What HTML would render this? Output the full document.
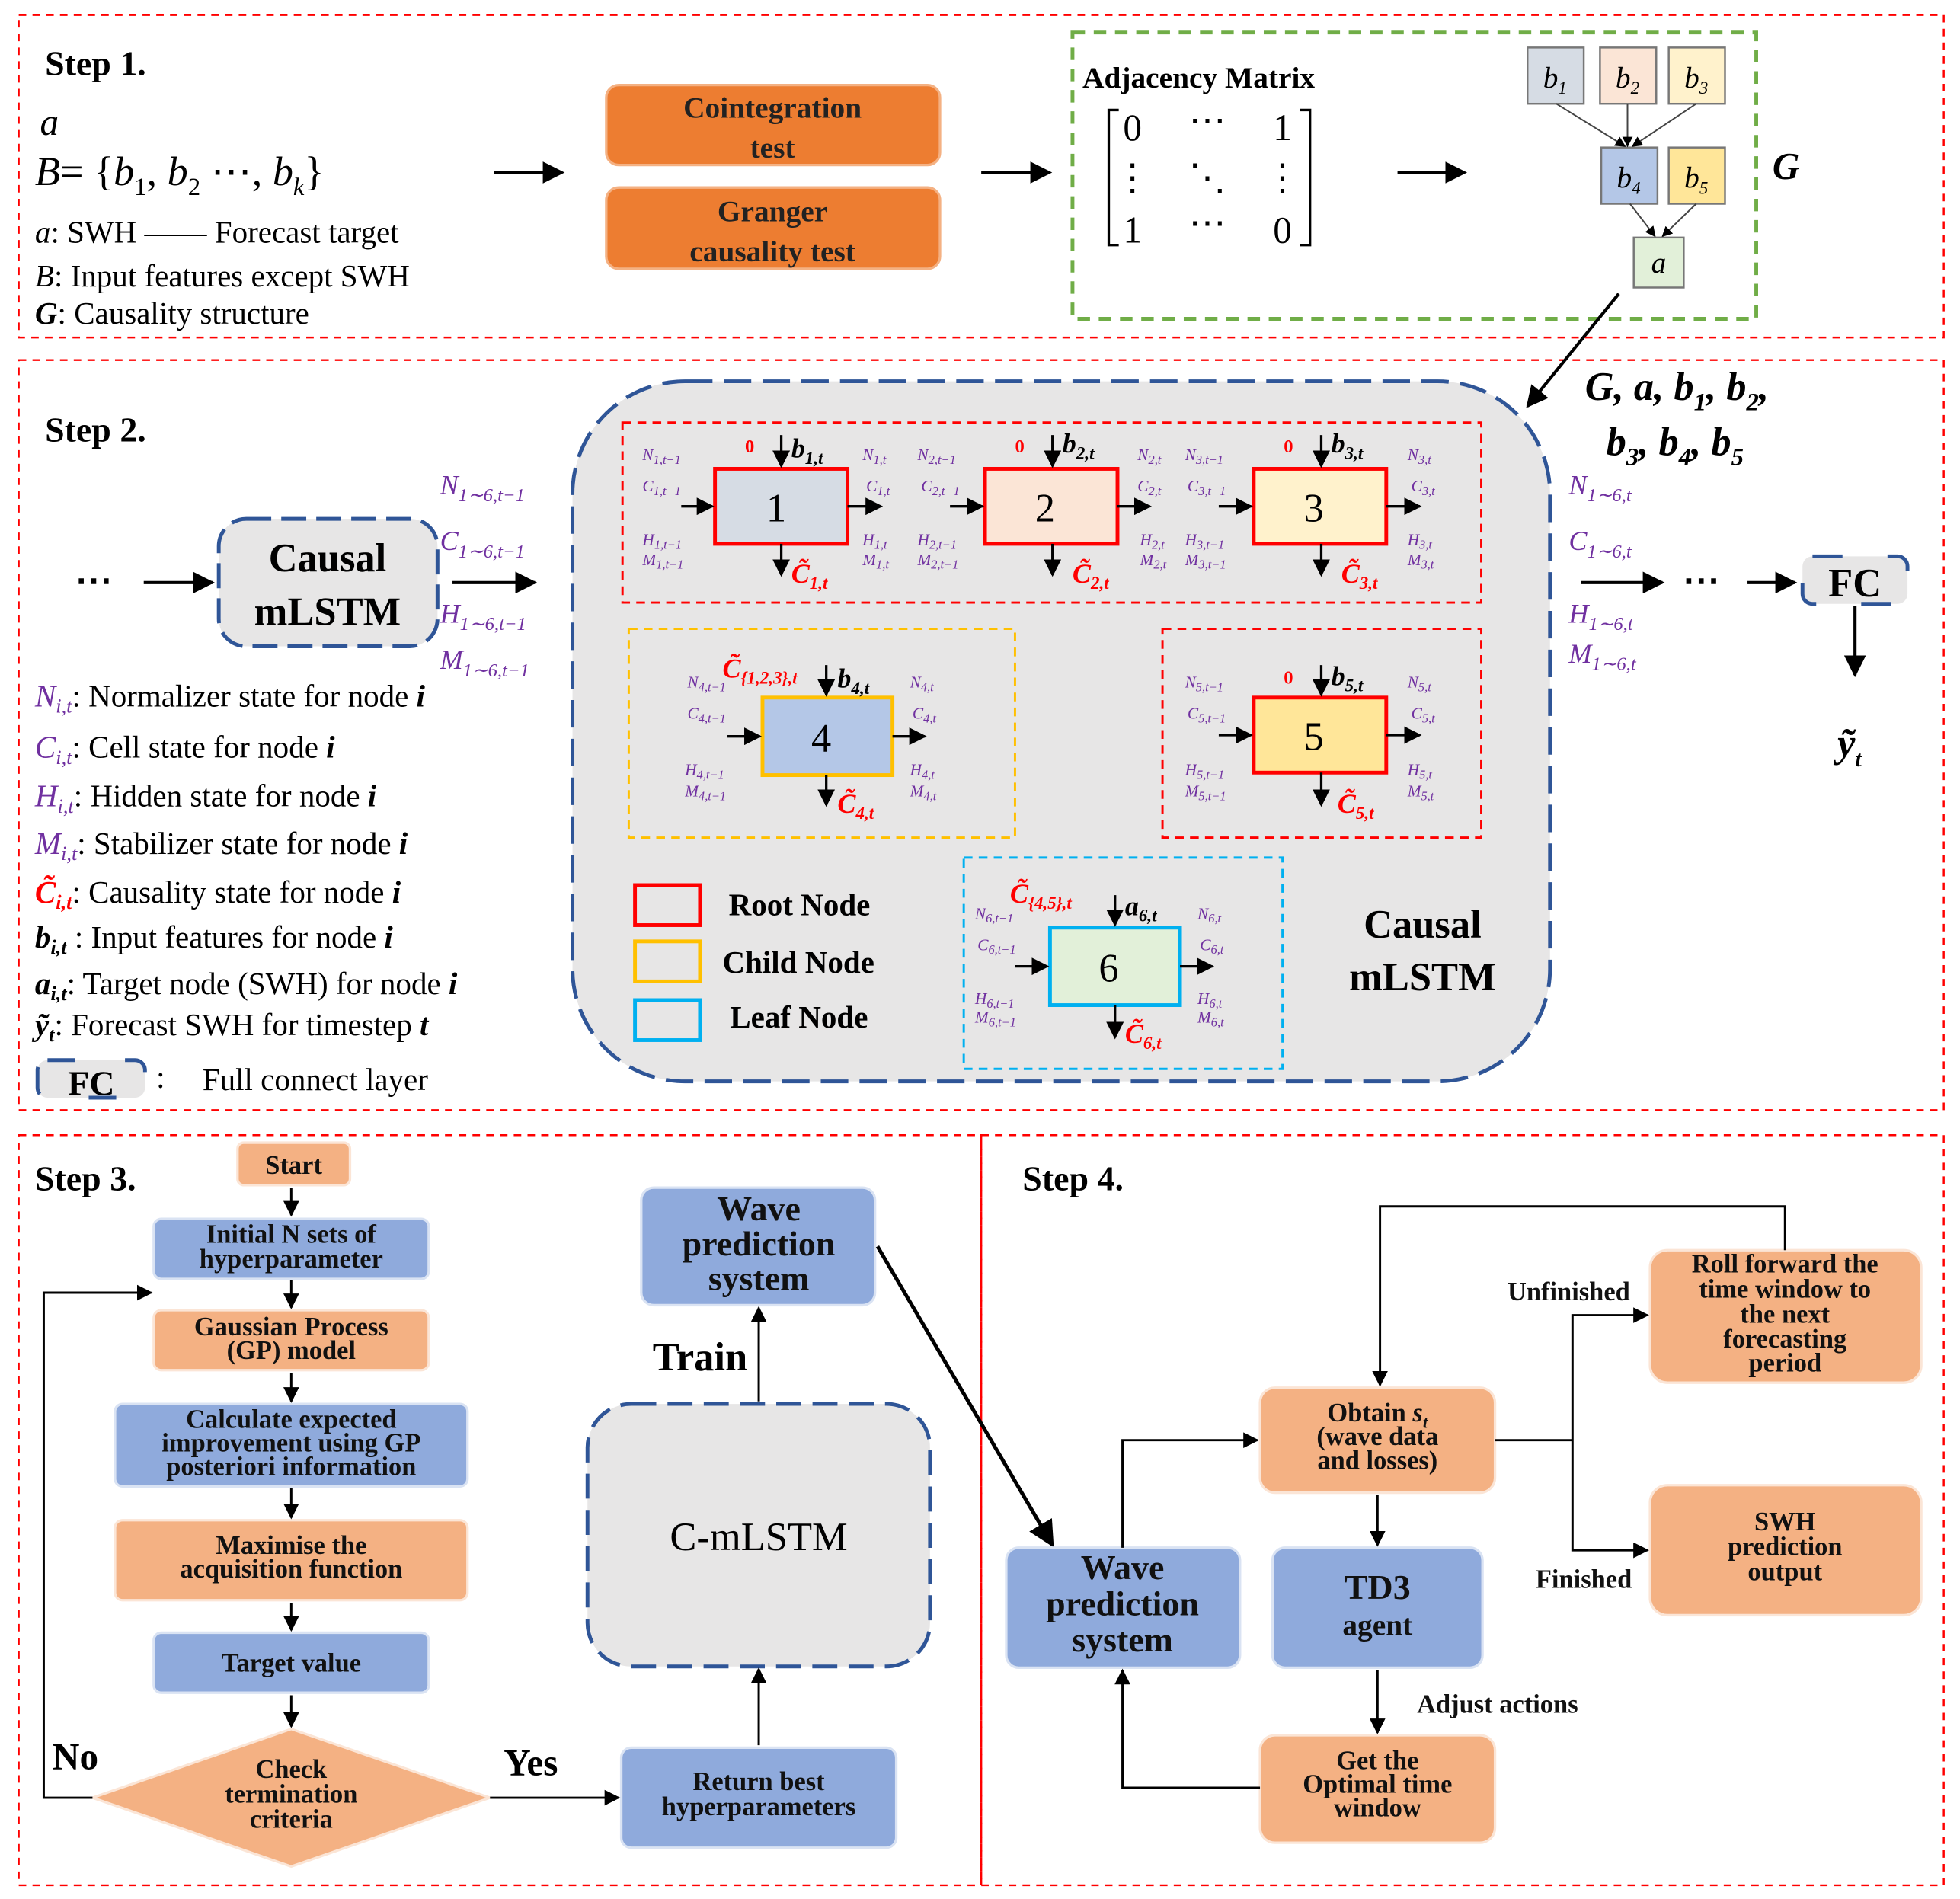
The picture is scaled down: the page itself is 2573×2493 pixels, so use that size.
<!DOCTYPE html>
<html><head><meta charset="utf-8"><style>
html,body{margin:0;padding:0;background:#fff;}
svg{display:block;}
text{font-family:"Liberation Serif",serif;}
.p{fill:#7030A0;font-style:italic;font-size:13px;}
.r{fill:#ff0000;font-weight:bold;}
.b{font-weight:bold;}
</style></head><body>
<svg width="2573" height="2493" viewBox="0 0 1568 1519" preserveAspectRatio="none" xmlns="http://www.w3.org/2000/svg">
<defs>
<marker id="ar" viewBox="0 0 10 10" refX="9" refY="5" markerWidth="7" markerHeight="7" orient="auto"><path d="M0,0L10,5L0,10z" fill="#000"/></marker>
</defs>
<rect width="1568" height="1519" fill="#fff"/>
<g fill="none" stroke="#ff0000" stroke-width="1.5" stroke-dasharray="6,5">
<rect x="15" y="12" width="1540" height="258"/>
<rect x="15" y="288" width="1540" height="600"/>
<rect x="15" y="908" width="770" height="600"/>
<rect x="785" y="908" width="770" height="600"/>
</g>
<!-- STEP 1 -->
<text x="36" y="60" font-size="28" class="b">Step 1.</text>
<text x="32" y="108" font-size="30" font-style="italic">a</text>
<text x="28" y="148" font-size="33"><tspan font-style="italic">B</tspan>= {<tspan font-style="italic">b</tspan><tspan font-size="20" dy="8">1</tspan><tspan dy="-8">,  </tspan><tspan font-style="italic">b</tspan><tspan font-size="20" dy="8">2</tspan><tspan dy="-8">  ⋯,  </tspan><tspan font-style="italic">b</tspan><tspan font-size="20" dy="8" font-style="italic">k</tspan><tspan dy="-8">}</tspan></text>
<text x="28" y="194" font-size="25"><tspan font-style="italic">a</tspan>:  SWH —— Forecast target</text>
<text x="28" y="229" font-size="25"><tspan font-style="italic">B</tspan>:  Input features except SWH</text>
<text x="28" y="259" font-size="25"><tspan font-style="italic" font-weight="bold">G</tspan>:  Causality structure</text>
<line x1="395" y1="138" x2="450" y2="138" stroke="#000" stroke-width="2.5" marker-end="url(#ar)"/>
<rect x="485" y="68" width="267" height="64" rx="10" fill="#ED7D31" stroke="#F4B183" stroke-width="2"/>
<text x="618" y="94" font-size="24" class="b" text-anchor="middle" fill="#222">Cointegration</text>
<text x="618" y="126" font-size="24" class="b" text-anchor="middle" fill="#222">test</text>
<rect x="485" y="150" width="267" height="65" rx="10" fill="#ED7D31" stroke="#F4B183" stroke-width="2"/>
<text x="618" y="177" font-size="24" class="b" text-anchor="middle" fill="#222">Granger</text>
<text x="618" y="209" font-size="24" class="b" text-anchor="middle" fill="#222">causality test</text>
<line x1="785" y1="138" x2="840" y2="138" stroke="#000" stroke-width="2.5" marker-end="url(#ar)"/>
<rect x="858" y="26" width="547" height="229" fill="none" stroke="#70AD47" stroke-width="3" stroke-dasharray="10,7"/>
<text x="866" y="70" font-size="24" class="b">Adjacency Matrix</text>
<path d="M895,88h-8v108h8 M1040,88h8v108h-8" fill="none" stroke="#000" stroke-width="2"/>
<g font-size="30" text-anchor="middle"><text x="906" y="112">0</text><text x="966" y="106">⋯</text><text x="1026" y="112">1</text>
<text x="906" y="152">⋮</text><text x="966" y="152">⋱</text><text x="1026" y="152">⋮</text>
<text x="906" y="194">1</text><text x="966" y="188">⋯</text><text x="1026" y="194">0</text></g>
<line x1="1118" y1="138" x2="1172" y2="138" stroke="#000" stroke-width="2.5" marker-end="url(#ar)"/>
<g stroke="#777" stroke-width="1.5">
<rect x="1222" y="38" width="45" height="45" fill="#d6dce4"/><rect x="1280" y="38" width="45" height="45" fill="#fbe5d6"/><rect x="1335" y="38" width="45" height="45" fill="#fff2cc"/>
<rect x="1281" y="118" width="45" height="45" fill="#b4c7e7"/><rect x="1335" y="118" width="45" height="45" fill="#ffe699"/><rect x="1307" y="190" width="40" height="40" fill="#e2f0d9"/>
</g>
<g stroke="#444" stroke-width="1.2"><line x1="1245" y1="83" x2="1300" y2="117" marker-end="url(#ar)"/><line x1="1302" y1="83" x2="1302" y2="117" marker-end="url(#ar)"/><line x1="1357" y1="83" x2="1306" y2="117" marker-end="url(#ar)"/><line x1="1304" y1="163" x2="1324" y2="189" marker-end="url(#ar)"/><line x1="1357" y1="163" x2="1330" y2="189" marker-end="url(#ar)"/></g>
<g font-size="24" font-style="italic" text-anchor="middle"><text x="1244" y="70">b<tspan font-size="14" dy="5">1</tspan></text><text x="1302" y="70">b<tspan font-size="14" dy="5">2</tspan></text><text x="1357" y="70">b<tspan font-size="14" dy="5">3</tspan></text><text x="1303" y="150">b<tspan font-size="14" dy="5">4</tspan></text><text x="1357" y="150">b<tspan font-size="14" dy="5">5</tspan></text><text x="1327" y="218">a</text></g>
<text x="1418" y="143" font-size="30" class="b" font-style="italic">G</text>
<line x1="1295" y1="235" x2="1222" y2="325" stroke="#000" stroke-width="2.5" marker-end="url(#ar)"/>
<!-- STEP 2 -->
<text x="36" y="353" font-size="28" class="b">Step 2.</text>
<text x="60" y="474" font-size="30" class="b">⋯</text>
<line x1="115" y1="466" x2="170" y2="466" stroke="#000" stroke-width="2.5" marker-end="url(#ar)"/>
<rect x="175" y="415" width="175" height="102" rx="22" fill="#e7e6e6" stroke="#2F5597" stroke-width="3" stroke-dasharray="20,8"/>
<text x="262" y="457" font-size="32" class="b" text-anchor="middle">Causal</text>
<text x="262" y="500" font-size="32" class="b" text-anchor="middle">mLSTM</text>
<line x1="362" y1="466" x2="428" y2="466" stroke="#000" stroke-width="2.5" marker-end="url(#ar)"/>
<g fill="#7030A0" font-style="italic" font-size="22">
<text x="352" y="395">N<tspan font-size="15" dy="6">1∼6,t−1</tspan></text>
<text x="352" y="440">C<tspan font-size="15" dy="6">1∼6,t−1</tspan></text>
<text x="352" y="498">H<tspan font-size="15" dy="6">1∼6,t−1</tspan></text>
<text x="352" y="535">M<tspan font-size="15" dy="6">1∼6,t−1</tspan></text>
</g>
<g font-size="25">
<text x="28" y="565"><tspan fill="#7030A0" font-style="italic">N<tspan font-size="16" dy="5">i,t</tspan></tspan><tspan dy="-5">: Normalizer state for node </tspan><tspan font-style="italic" font-weight="bold">i</tspan></text>
<text x="28" y="606"><tspan fill="#7030A0" font-style="italic">C<tspan font-size="16" dy="5">i,t</tspan></tspan><tspan dy="-5">: Cell state for node </tspan><tspan font-style="italic" font-weight="bold">i</tspan></text>
<text x="28" y="645"><tspan fill="#7030A0" font-style="italic">H<tspan font-size="16" dy="5">i,t</tspan></tspan><tspan dy="-5">: Hidden state for node </tspan><tspan font-style="italic" font-weight="bold">i</tspan></text>
<text x="28" y="683"><tspan fill="#7030A0" font-style="italic">M<tspan font-size="16" dy="5">i,t</tspan></tspan><tspan dy="-5">: Stabilizer state for node </tspan><tspan font-style="italic" font-weight="bold">i</tspan></text>
<text x="28" y="722"><tspan fill="#ff0000" font-style="italic" font-weight="bold">C̃<tspan font-size="16" dy="5">i,t</tspan></tspan><tspan dy="-5">: Causality state for node </tspan><tspan font-style="italic" font-weight="bold">i</tspan></text>
<text x="28" y="758"><tspan font-style="italic" font-weight="bold">b<tspan font-size="16" dy="5">i,t</tspan></tspan><tspan dy="-5"> : Input features for node </tspan><tspan font-style="italic" font-weight="bold">i</tspan></text>
<text x="28" y="795"><tspan font-style="italic" font-weight="bold">a<tspan font-size="16" dy="5">i,t</tspan></tspan><tspan dy="-5">: Target node (SWH) for node </tspan><tspan font-style="italic" font-weight="bold">i</tspan></text>
<text x="28" y="828"><tspan font-style="italic" font-weight="bold">ỹ<tspan font-size="16" dy="5">t</tspan></tspan><tspan dy="-5">: Forecast SWH for timestep </tspan><tspan font-style="italic" font-weight="bold">t</tspan></text>
<text x="162" y="872">Full connect layer</text>
<text x="125" y="870">:</text>
</g>
<rect x="30" y="848" width="86" height="30" rx="8" fill="#e7e6e6" stroke="#2F5597" stroke-width="3" stroke-dasharray="22,40"/>
<text x="73" y="876" font-size="28" class="b" text-anchor="middle">FC</text>
<rect x="458" y="305" width="782" height="560" rx="90" fill="#e7e6e6" stroke="#2F5597" stroke-width="3" stroke-dasharray="22,9"/>
<g fill="none" stroke-width="1.8" stroke-dasharray="7,5">
<rect x="498" y="338" width="687" height="144" stroke="#ff0000"/>
<rect x="503" y="503" width="309" height="167" stroke="#ffc000"/>
<rect x="930" y="503" width="255" height="167" stroke="#ff0000"/>
<rect x="771" y="686" width="255" height="169" stroke="#00b0f0"/>
</g>
<g stroke-width="3">
<rect x="572" y="375" width="106" height="60" fill="#d6dce4" stroke="#ff0000"/>
<rect x="788" y="375" width="106" height="60" fill="#fbe5d6" stroke="#ff0000"/>
<rect x="1003" y="375" width="106" height="60" fill="#fff2cc" stroke="#ff0000"/>
<rect x="610" y="558" width="104" height="62" fill="#b4c7e7" stroke="#ffc000"/>
<rect x="1003" y="558" width="106" height="60" fill="#ffe699" stroke="#ff0000"/>
<rect x="840" y="742" width="104" height="62" fill="#e2f0d9" stroke="#00b0f0"/>
</g>
<g font-size="32" text-anchor="middle" style="font-family:'Liberation Sans',sans-serif"><text x="621" y="417">1</text><text x="836" y="417">2</text><text x="1051" y="417">3</text><text x="657" y="601">4</text><text x="1051" y="600">5</text><text x="887" y="785">6</text></g>
<g stroke="#000" stroke-width="2">
<line x1="545" y1="405" x2="570" y2="405" marker-end="url(#ar)"/><line x1="678" y1="405" x2="705" y2="405" marker-end="url(#ar)"/>
<line x1="760" y1="405" x2="786" y2="405" marker-end="url(#ar)"/><line x1="894" y1="405" x2="920" y2="405" marker-end="url(#ar)"/>
<line x1="975" y1="405" x2="1001" y2="405" marker-end="url(#ar)"/><line x1="1109" y1="405" x2="1136" y2="405" marker-end="url(#ar)"/>
<line x1="625" y1="348" x2="625" y2="373" marker-end="url(#ar)"/><line x1="625" y1="435" x2="625" y2="460" marker-end="url(#ar)"/>
<line x1="842" y1="348" x2="842" y2="373" marker-end="url(#ar)"/><line x1="842" y1="435" x2="842" y2="460" marker-end="url(#ar)"/>
<line x1="1057" y1="348" x2="1057" y2="373" marker-end="url(#ar)"/><line x1="1057" y1="435" x2="1057" y2="460" marker-end="url(#ar)"/>
<line x1="582" y1="589" x2="608" y2="589" marker-end="url(#ar)"/><line x1="714" y1="589" x2="740" y2="589" marker-end="url(#ar)"/>
<line x1="661" y1="532" x2="661" y2="556" marker-end="url(#ar)"/><line x1="661" y1="620" x2="661" y2="644" marker-end="url(#ar)"/>
<line x1="975" y1="588" x2="1001" y2="588" marker-end="url(#ar)"/><line x1="1109" y1="588" x2="1136" y2="588" marker-end="url(#ar)"/>
<line x1="1057" y1="532" x2="1057" y2="556" marker-end="url(#ar)"/><line x1="1057" y1="618" x2="1057" y2="644" marker-end="url(#ar)"/>
<line x1="812" y1="773" x2="838" y2="773" marker-end="url(#ar)"/><line x1="944" y1="773" x2="970" y2="773" marker-end="url(#ar)"/>
<line x1="892" y1="716" x2="892" y2="740" marker-end="url(#ar)"/><line x1="892" y1="804" x2="892" y2="830" marker-end="url(#ar)"/>
</g>
<g class="p">
<text x="514" y="368">N<tspan font-size="10" dy="3">1,t−1</tspan></text><text x="514" y="393">C<tspan font-size="10" dy="3">1,t−1</tspan></text><text x="514" y="436">H<tspan font-size="10" dy="3">1,t−1</tspan></text><text x="514" y="452">M<tspan font-size="10" dy="3">1,t−1</tspan></text>
<text x="690" y="368">N<tspan font-size="10" dy="3">1,t</tspan></text><text x="693" y="393">C<tspan font-size="10" dy="3">1,t</tspan></text><text x="690" y="436">H<tspan font-size="10" dy="3">1,t</tspan></text><text x="690" y="452">M<tspan font-size="10" dy="3">1,t</tspan></text>
<text x="734" y="368">N<tspan font-size="10" dy="3">2,t−1</tspan></text><text x="737" y="393">C<tspan font-size="10" dy="3">2,t−1</tspan></text><text x="734" y="436">H<tspan font-size="10" dy="3">2,t−1</tspan></text><text x="734" y="452">M<tspan font-size="10" dy="3">2,t−1</tspan></text>
<text x="910" y="368">N<tspan font-size="10" dy="3">2,t</tspan></text><text x="910" y="393">C<tspan font-size="10" dy="3">2,t</tspan></text><text x="912" y="436">H<tspan font-size="10" dy="3">2,t</tspan></text><text x="912" y="452">M<tspan font-size="10" dy="3">2,t</tspan></text>
<text x="948" y="368">N<tspan font-size="10" dy="3">3,t−1</tspan></text><text x="950" y="393">C<tspan font-size="10" dy="3">3,t−1</tspan></text><text x="948" y="436">H<tspan font-size="10" dy="3">3,t−1</tspan></text><text x="948" y="452">M<tspan font-size="10" dy="3">3,t−1</tspan></text>
<text x="1126" y="368">N<tspan font-size="10" dy="3">3,t</tspan></text><text x="1129" y="393">C<tspan font-size="10" dy="3">3,t</tspan></text><text x="1126" y="436">H<tspan font-size="10" dy="3">3,t</tspan></text><text x="1126" y="452">M<tspan font-size="10" dy="3">3,t</tspan></text>
<text x="550" y="550">N<tspan font-size="10" dy="3">4,t−1</tspan></text><text x="550" y="575">C<tspan font-size="10" dy="3">4,t−1</tspan></text><text x="548" y="620">H<tspan font-size="10" dy="3">4,t−1</tspan></text><text x="548" y="637">M<tspan font-size="10" dy="3">4,t−1</tspan></text>
<text x="728" y="550">N<tspan font-size="10" dy="3">4,t</tspan></text><text x="730" y="575">C<tspan font-size="10" dy="3">4,t</tspan></text><text x="728" y="620">H<tspan font-size="10" dy="3">4,t</tspan></text><text x="728" y="637">M<tspan font-size="10" dy="3">4,t</tspan></text>
<text x="948" y="550">N<tspan font-size="10" dy="3">5,t−1</tspan></text><text x="950" y="575">C<tspan font-size="10" dy="3">5,t−1</tspan></text><text x="948" y="620">H<tspan font-size="10" dy="3">5,t−1</tspan></text><text x="948" y="637">M<tspan font-size="10" dy="3">5,t−1</tspan></text>
<text x="1126" y="550">N<tspan font-size="10" dy="3">5,t</tspan></text><text x="1129" y="575">C<tspan font-size="10" dy="3">5,t</tspan></text><text x="1126" y="620">H<tspan font-size="10" dy="3">5,t</tspan></text><text x="1126" y="637">M<tspan font-size="10" dy="3">5,t</tspan></text>
<text x="780" y="735">N<tspan font-size="10" dy="3">6,t−1</tspan></text><text x="782" y="760">C<tspan font-size="10" dy="3">6,t−1</tspan></text><text x="780" y="803">H<tspan font-size="10" dy="3">6,t−1</tspan></text><text x="780" y="818">M<tspan font-size="10" dy="3">6,t−1</tspan></text>
<text x="958" y="735">N<tspan font-size="10" dy="3">6,t</tspan></text><text x="960" y="760">C<tspan font-size="10" dy="3">6,t</tspan></text><text x="958" y="803">H<tspan font-size="10" dy="3">6,t</tspan></text><text x="958" y="818">M<tspan font-size="10" dy="3">6,t</tspan></text>
</g>
<g class="r" font-size="15"><text x="596" y="362">0</text><text x="812" y="362">0</text><text x="1027" y="362">0</text><text x="1027" y="547">0</text></g>
<g font-size="22" font-weight="bold" font-style="italic">
<text x="633" y="366">b<tspan font-size="14" dy="5">1,t</tspan></text><text x="850" y="362">b<tspan font-size="14" dy="5">2,t</tspan></text><text x="1065" y="362">b<tspan font-size="14" dy="5">3,t</tspan></text>
<text x="670" y="550">b<tspan font-size="14" dy="5">4,t</tspan></text><text x="1065" y="548">b<tspan font-size="14" dy="5">5,t</tspan></text><text x="900" y="732">a<tspan font-size="14" dy="5">6,t</tspan></text>
</g>
<g font-size="22" class="r" font-style="italic">
<text x="633" y="466">C̃<tspan font-size="14" dy="5">1,t</tspan></text><text x="858" y="466">C̃<tspan font-size="14" dy="5">2,t</tspan></text><text x="1073" y="466">C̃<tspan font-size="14" dy="5">3,t</tspan></text>
<text x="670" y="650">C̃<tspan font-size="14" dy="5">4,t</tspan></text><text x="1070" y="650">C̃<tspan font-size="14" dy="5">5,t</tspan></text><text x="900" y="834">C̃<tspan font-size="14" dy="5">6,t</tspan></text>
<text x="578" y="542">C̃<tspan font-size="14" dy="5">{1,2,3},t</tspan></text><text x="808" y="722">C̃<tspan font-size="14" dy="5">{4,5},t</tspan></text>
</g>
<rect x="508" y="708" width="52" height="32" fill="none" stroke="#ff0000" stroke-width="3"/>
<rect x="508" y="753" width="52" height="32" fill="none" stroke="#ffc000" stroke-width="3"/>
<rect x="508" y="800" width="52" height="32" fill="none" stroke="#00b0f0" stroke-width="3"/>
<g font-size="25" class="b"><text x="583" y="732">Root Node</text><text x="578" y="778">Child Node</text><text x="584" y="822">Leaf Node</text></g>
<text x="1138" y="750" font-size="32" class="b" text-anchor="middle">Causal</text>
<text x="1138" y="792" font-size="32" class="b" text-anchor="middle">mLSTM</text>
<g font-size="32" font-weight="bold" font-style="italic"><text x="1268" y="320">G, a, b<tspan font-size="20" dy="8">1</tspan><tspan dy="-8">, b</tspan><tspan font-size="20" dy="8">2</tspan><tspan dy="-8">,</tspan></text>
<text x="1285" y="364">b<tspan font-size="20" dy="8">3</tspan><tspan dy="-8">, b</tspan><tspan font-size="20" dy="8">4</tspan><tspan dy="-8">, b</tspan><tspan font-size="20" dy="8">5</tspan></text></g>
<g fill="#7030A0" font-style="italic" font-size="22">
<text x="1255" y="395">N<tspan font-size="15" dy="6">1∼6,t</tspan></text>
<text x="1255" y="440">C<tspan font-size="15" dy="6">1∼6,t</tspan></text>
<text x="1255" y="498">H<tspan font-size="15" dy="6">1∼6,t</tspan></text>
<text x="1255" y="530">M<tspan font-size="15" dy="6">1∼6,t</tspan></text>
</g>
<line x1="1265" y1="466" x2="1330" y2="466" stroke="#000" stroke-width="2.5" marker-end="url(#ar)"/>
<text x="1346" y="474" font-size="30" class="b">⋯</text>
<line x1="1398" y1="466" x2="1436" y2="466" stroke="#000" stroke-width="2.5" marker-end="url(#ar)"/>
<rect x="1442" y="445" width="84" height="38" rx="8" fill="#e7e6e6" stroke="#2F5597" stroke-width="3" stroke-dasharray="24,36"/>
<text x="1484" y="477" font-size="32" class="b" text-anchor="middle">FC</text>
<line x1="1484" y1="485" x2="1484" y2="540" stroke="#000" stroke-width="2.5" marker-end="url(#ar)"/>
<text x="1470" y="605" font-size="32" font-weight="bold" font-style="italic">ỹ<tspan font-size="18" dy="8">t</tspan></text>
<!-- STEP 3 -->
<text x="28" y="952" font-size="28" class="b">Step 3.</text>
<g stroke-width="2">
<rect x="190" y="914" width="90" height="34" rx="5" fill="#F4B183" stroke="#fbe5d6"/>
<rect x="123" y="975" width="220" height="48" rx="6" fill="#8FAADC" stroke="#dae3f3"/>
<rect x="123" y="1048" width="220" height="48" rx="6" fill="#F4B183" stroke="#fbe5d6"/>
<rect x="92" y="1123" width="282" height="66" rx="6" fill="#8FAADC" stroke="#dae3f3"/>
<rect x="92" y="1216" width="282" height="64" rx="6" fill="#F4B183" stroke="#fbe5d6"/>
<rect x="123" y="1306" width="220" height="48" rx="6" fill="#8FAADC" stroke="#dae3f3"/>
<polygon points="233,1383 392,1438 233,1493 74,1438" fill="#F4B183" stroke="#fbe5d6"/>
<rect x="497" y="1398" width="220" height="80" rx="8" fill="#8FAADC" stroke="#dae3f3"/>
<rect x="513" y="950" width="187" height="94" rx="10" fill="#8FAADC" stroke="#dae3f3"/>
</g>
<rect x="470" y="1123" width="274" height="210" rx="35" fill="#e7e6e6" stroke="#2F5597" stroke-width="3" stroke-dasharray="20,9"/>
<g font-size="21" class="b" text-anchor="middle" fill="#111">
<text x="235" y="939">Start</text>
<text x="233" y="994">Initial N sets of</text><text x="233" y="1014">hyperparameter</text>
<text x="233" y="1068">Gaussian Process</text><text x="233" y="1087">(GP) model</text>
<text x="233" y="1142">Calculate expected</text><text x="233" y="1161">improvement using GP</text><text x="233" y="1180">posteriori information</text>
<text x="233" y="1243">Maximise the</text><text x="233" y="1262">acquisition function</text>
<text x="233" y="1337">Target value</text>
<text x="233" y="1422">Check</text><text x="233" y="1442">termination</text><text x="233" y="1462">criteria</text>
<text x="607" y="1432">Return best</text><text x="607" y="1452">hyperparameters</text>
</g>
<g font-size="28" class="b" text-anchor="middle" fill="#111"><text x="607" y="976">Wave</text><text x="607" y="1004">prediction</text><text x="607" y="1032">system</text></g>
<text x="607" y="1240" font-size="32" text-anchor="middle">C-mLSTM</text>
<text x="560" y="1096" font-size="32" class="b" text-anchor="middle">Train</text>
<text x="42" y="1415" font-size="30" class="b">No</text>
<text x="403" y="1420" font-size="30" class="b">Yes</text>
<g stroke="#000" stroke-width="1.8" fill="none">
<line x1="233" y1="950" x2="233" y2="972" marker-end="url(#ar)"/>
<line x1="233" y1="1024" x2="233" y2="1046" marker-end="url(#ar)"/>
<line x1="233" y1="1098" x2="233" y2="1121" marker-end="url(#ar)"/>
<line x1="233" y1="1190" x2="233" y2="1214" marker-end="url(#ar)"/>
<line x1="233" y1="1282" x2="233" y2="1304" marker-end="url(#ar)"/>
<line x1="233" y1="1356" x2="233" y2="1381" marker-end="url(#ar)"/>
<polyline points="74,1438 35,1438 35,1034 121,1034" marker-end="url(#ar)"/>
<line x1="392" y1="1438" x2="495" y2="1438" marker-end="url(#ar)"/>
<line x1="607" y1="1396" x2="607" y2="1335" marker-end="url(#ar)"/>
<line x1="607" y1="1121" x2="607" y2="1046" marker-end="url(#ar)"/>
<line x1="702" y1="997" x2="842" y2="1236" stroke-width="3" marker-end="url(#ar)"/>
</g>
<!-- STEP 4 -->
<text x="818" y="952" font-size="28" class="b">Step 4.</text>
<g stroke-width="2">
<rect x="805" y="1238" width="187" height="96" rx="10" fill="#8FAADC" stroke="#dae3f3"/>
<rect x="1008" y="1110" width="188" height="84" rx="12" fill="#F4B183" stroke="#fbe5d6"/>
<rect x="1018" y="1238" width="168" height="96" rx="10" fill="#8FAADC" stroke="#dae3f3"/>
<rect x="1008" y="1388" width="188" height="86" rx="12" fill="#F4B183" stroke="#fbe5d6"/>
<rect x="1320" y="1000" width="217" height="106" rx="14" fill="#F4B183" stroke="#fbe5d6"/>
<rect x="1320" y="1188" width="217" height="104" rx="14" fill="#F4B183" stroke="#fbe5d6"/>
</g>
<g font-size="28" class="b" text-anchor="middle" fill="#111"><text x="898" y="1263">Wave</text><text x="898" y="1292">prediction</text><text x="898" y="1321">system</text>
<text x="1102" y="1279">TD3</text><text x="1102" y="1308" font-size="24">agent</text></g>
<g font-size="21" class="b" text-anchor="middle" fill="#111">
<text x="1102" y="1137">Obtain <tspan font-style="italic">s</tspan><tspan font-size="14" dy="5" font-style="italic">t</tspan></text><text x="1102" y="1156">(wave data</text><text x="1102" y="1175">and losses)</text>
<text x="1102" y="1415">Get the</text><text x="1102" y="1434">Optimal time</text><text x="1102" y="1453">window</text>
<text x="1428" y="1018">Roll forward the</text><text x="1428" y="1038">time window to</text><text x="1428" y="1058">the next</text><text x="1428" y="1078">forecasting</text><text x="1428" y="1097">period</text>
<text x="1428" y="1224">SWH</text><text x="1428" y="1244">prediction</text><text x="1428" y="1264">output</text>
<text x="1255" y="1040">Unfinished</text><text x="1267" y="1270">Finished</text><text x="1198" y="1370" text-anchor="middle">Adjust actions</text>
</g>
<g stroke="#000" stroke-width="1.8" fill="none">
<polyline points="898,1238 898,1152 1006,1152" marker-end="url(#ar)"/>
<line x1="1102" y1="1196" x2="1102" y2="1236" marker-end="url(#ar)"/>
<line x1="1102" y1="1336" x2="1102" y2="1386" marker-end="url(#ar)"/>
<polyline points="1008,1430 898,1430 898,1336" marker-end="url(#ar)"/>
<polyline points="1196,1152 1258,1152"/>
<polyline points="1258,1152 1258,1052 1318,1052" marker-end="url(#ar)"/>
<polyline points="1258,1152 1258,1240 1318,1240" marker-end="url(#ar)"/>
<polyline points="1428,1000 1428,965 1104,965 1104,1108" marker-end="url(#ar)"/>
</g>
</svg>
</body></html>
